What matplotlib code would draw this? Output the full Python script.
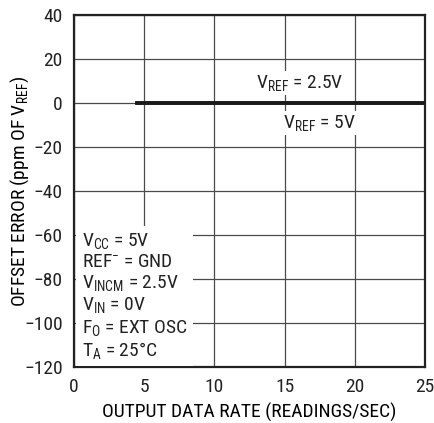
import matplotlib
matplotlib.use("Agg")
import matplotlib.pyplot as plt
from matplotlib import font_manager

# Offset error vs output data rate (both VREF curves sit at 0 ppm)
rate = [4.5, 10, 15, 20, 25]
err_vref_25 = [0, 0, 0, 0, 0]
err_vref_5 = [0, 0, 0, 0, 0]

x_ticks = [0, 5, 10, 15, 20, 25]
y_ticks = [40, 20, 0, -20, -40, -60, -80, -100, -120]

conditions = [
    r"$V_{CC}$ = 5V",
    r"REF$^{-}$ = GND",
    r"$V_{INCM}$ = 2.5V",
    r"$V_{IN}$ = 0V",
    r"$F_{O}$ = EXT OSC",
    r"$T_{A}$ = 25°C",
]

# datasheet style narrow sans: take the first one that is installed
wanted = ["Liberation Sans Narrow", "Arial Narrow", "Roboto Condensed",
          "Archivo Narrow", "PT Sans Narrow", "Fira Sans Condensed",
          "Barlow Semi Condensed"]
have = {f.name for f in font_manager.fontManager.ttflist}
fams = [n for n in wanted if n in have][:1] + ["DejaVu Sans"]

plt.rcParams["font.family"] = fams
plt.rcParams["mathtext.fontset"] = "custom"
plt.rcParams["mathtext.rm"] = fams[0]
plt.rcParams["mathtext.it"] = fams[0]
plt.rcParams["mathtext.default"] = "regular"
plt.rcParams["text.color"] = "#222222"

FS = 14


def plot_chart():
    fig = plt.figure(figsize=(4.35, 4.23), dpi=100)
    ax = fig.add_axes([0.170, 0.132, 0.807, 0.833])

    ax.set_xlim(0, 25)
    ax.set_ylim(-120, 40)
    ax.set_xticks(x_ticks)
    ax.set_yticks(y_ticks)
    ax.set_yticklabels([str(v).replace("-", "\u2212") for v in y_ticks])
    ax.tick_params(length=0, labelsize=FS, labelcolor="#222222")
    ax.tick_params(axis="x", pad=8)
    ax.tick_params(axis="y", pad=8)

    ax.grid(True, color="#4a4a4a", linewidth=0.9)
    ax.set_axisbelow(True)
    for s in ax.spines.values():
        s.set_linewidth(1.6)
        s.set_color("#222222")

    ax.plot(rate, err_vref_25, color="#1a1a1a", linewidth=2.6, zorder=3)
    ax.plot(rate, err_vref_5, color="#1a1a1a", linewidth=2.6, zorder=3)

    box = dict(facecolor="white", edgecolor="none", pad=1.5)
    ax.text(16.1, 9, r"$V_{REF}$ = 2.5V", ha="center", va="center",
            fontsize=FS, bbox=box, zorder=4)
    ax.text(17.5, -9, r"$V_{REF}$ = 5V", ha="center", va="center",
            fontsize=FS, bbox=box, zorder=4)

    # test conditions block
    ax.text(0.55, -58.3, "\n".join(conditions), ha="left", va="top",
            fontsize=FS, linespacing=1.14,
            bbox=dict(facecolor="white", edgecolor="none", pad=4), zorder=4)

    ax.set_xlabel("OUTPUT DATA RATE (READINGS/SEC)", fontsize=FS, labelpad=5)
    ax.set_ylabel(r"OFFSET ERROR (ppm OF $V_{REF}$)", fontsize=FS, labelpad=-5)

    fig.savefig("out.png", dpi=100)


if __name__ == "__main__":
    plot_chart()
